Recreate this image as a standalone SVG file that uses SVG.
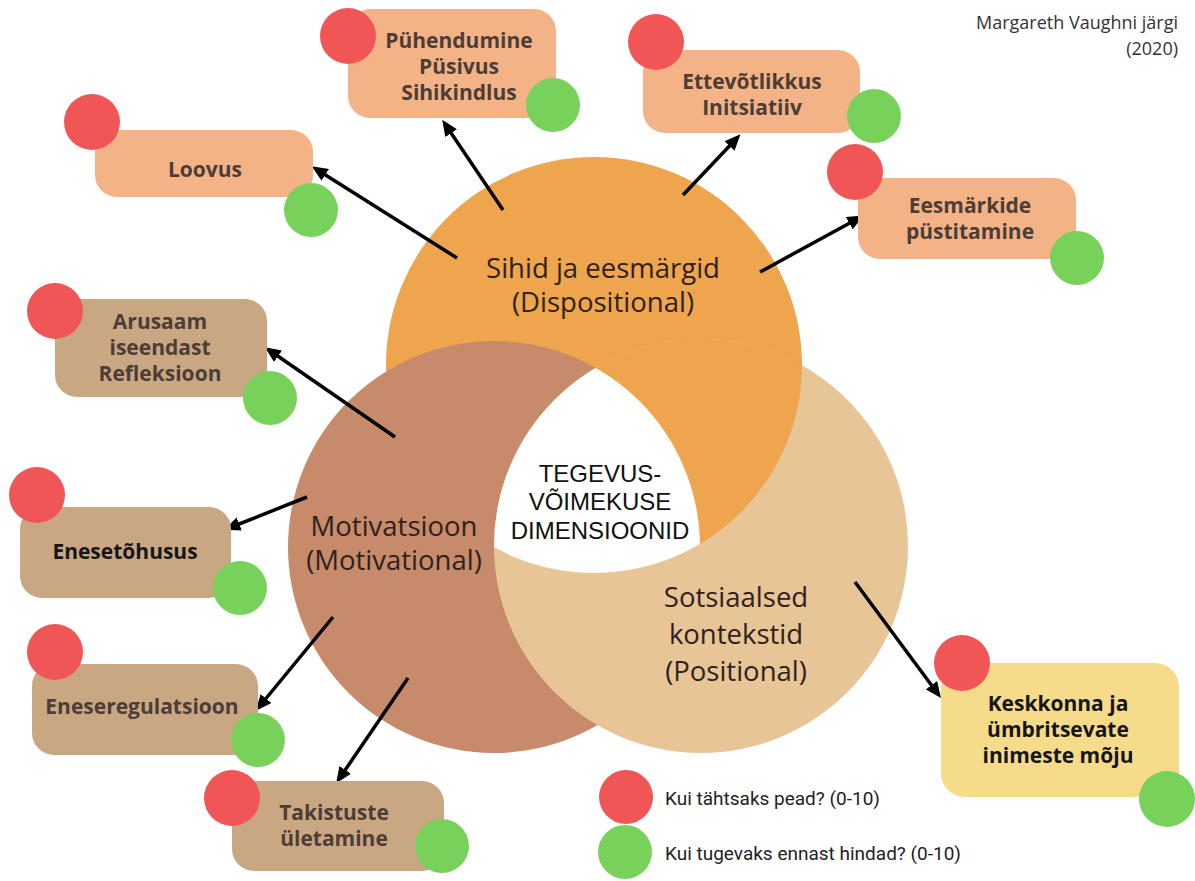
<svg xmlns="http://www.w3.org/2000/svg" width="1195" height="881" viewBox="0 0 1195 881">
<style>
.nt{font-family:"Open Sans","Liberation Sans",sans-serif;font-weight:700;font-size:21px;fill:#4d3d37;text-anchor:middle}
.nk{fill:#161616}
.cl{font-family:"Open Sans","Liberation Sans",sans-serif;font-size:27.5px;fill:#2f221d;text-anchor:middle}
.ct{font-family:"Liberation Sans",Arial,sans-serif;font-size:24px;fill:#111;text-anchor:middle}
.lg{font-family:Roboto,"Liberation Sans",sans-serif;font-size:19px;fill:#222}
.tt{font-family:"Open Sans","Liberation Sans",sans-serif;font-size:18px;fill:#333;text-anchor:end}
.red{fill:#F15656}
.grn{fill:#77D15A}
.sal{fill:#F4B386}
.brn{fill:#C9A783}
.yel{fill:#F6DB8A}
.ar{stroke:#000;stroke-width:3.5;fill:none;marker-end:url(#ah)}
</style>
<defs>
<marker id="ah" markerUnits="userSpaceOnUse" markerWidth="16" markerHeight="14" refX="11" refY="7" orient="auto">
<path d="M0,0 L16,7 L0,14 z" fill="#000"/>
</marker>
<clipPath id="cTan"><circle cx="701" cy="546" r="207"/></clipPath>
<clipPath id="cOr"><circle cx="594" cy="365" r="208"/></clipPath>
</defs>
<rect width="1195" height="881" fill="#fff"/>

<g id="venn">
<circle id="c-orange" cx="594" cy="365" r="208" fill="#EEA54E"/>
<circle id="c-brown" cx="494" cy="547" r="206" fill="#C78A6A"/>
<circle id="c-tan" cx="701" cy="546" r="207" fill="#E8C596"/>
<circle cx="594" cy="365" r="208" fill="#EEA54E" clip-path="url(#cTan)"/>
<g clip-path="url(#cOr)"><g clip-path="url(#cTan)"><circle cx="494" cy="547" r="206" fill="#fff"/></g></g>
<text class="cl" x="603" y="278">Sihid ja eesmärgid</text>
<text class="cl" x="603" y="312">(Dispositional)</text>
<text class="cl" x="394" y="536">Motivatsioon</text>
<text class="cl" x="394" y="570">(Motivational)</text>
<text class="cl" x="736" y="607">Sotsiaalsed</text>
<text class="cl" x="736" y="644">kontekstid</text>
<text class="cl" x="736" y="681">(Positional)</text>
<text class="ct" x="600" y="482">TEGEVUS-</text>
<text class="ct" x="600" y="510">VÕIMEKUSE</text>
<text class="ct" x="600" y="539">DIMENSIOONID</text>
</g>

<g id="connectors">
<line class="ar" x1="457" y1="258" x2="316" y2="169"/>
<line class="ar" x1="503" y1="210" x2="445" y2="124"/>
<line class="ar" x1="683" y1="195" x2="737" y2="138"/>
<line class="ar" x1="760" y1="272" x2="859" y2="218"/>
<line class="ar" x1="395" y1="437" x2="269" y2="350"/>
<line class="ar" x1="307" y1="497" x2="229" y2="528"/>
<line class="ar" x1="333" y1="617" x2="259" y2="707"/>
<line class="ar" x1="408" y1="678" x2="339" y2="779"/>
<line class="ar" x1="855" y1="582" x2="938" y2="694"/>
</g>

<g id="n-loovus">
<rect class="sal" x="95" y="130" width="218" height="67" rx="22"/>
<circle class="red" cx="92" cy="122" r="28"/>
<circle class="grn" cx="311" cy="210" r="27"/>
<text class="nt" x="205" y="177">Loovus</text>
</g>

<g id="n-pyhendumine">
<rect class="sal" x="348" y="9" width="208" height="109" rx="22"/>
<circle class="red" cx="348" cy="36" r="28"/>
<circle class="grn" cx="553" cy="105" r="27"/>
<text class="nt" x="459" y="48">Pühendumine</text>
<text class="nt" x="459" y="74">Püsivus</text>
<text class="nt" x="459" y="100">Sihikindlus</text>
</g>

<g id="n-ettevotlikkus">
<rect class="sal" x="643" y="50" width="217" height="83" rx="22"/>
<circle class="red" cx="656" cy="42" r="28"/>
<circle class="grn" cx="874" cy="116" r="27"/>
<text class="nt" x="752" y="89">Ettevõtlikkus</text>
<text class="nt" x="752" y="115">Initsiatiiv</text>
</g>

<g id="n-eesmarkide">
<rect class="sal" x="858" y="178" width="218" height="81" rx="22"/>
<circle class="red" cx="855" cy="172" r="28"/>
<circle class="grn" cx="1077" cy="258" r="27"/>
<text class="nt" x="970" y="213">Eesmärkide</text>
<text class="nt" x="970" y="239">püstitamine</text>
</g>

<g id="n-arusaam">
<rect class="brn" x="55" y="299" width="212" height="98" rx="22"/>
<circle class="red" cx="55" cy="311" r="28"/>
<circle class="grn" cx="270" cy="398" r="27"/>
<text class="nt" x="160" y="329">Arusaam</text>
<text class="nt" x="160" y="355">iseendast</text>
<text class="nt" x="160" y="381">Refleksioon</text>
</g>

<g id="n-enesetohusus">
<rect class="brn" x="20" y="507" width="211" height="91" rx="22"/>
<circle class="red" cx="37" cy="495" r="28"/>
<circle class="grn" cx="240" cy="588" r="27"/>
<text class="nt nk" x="125" y="559">Enesetõhusus</text>
</g>

<g id="n-eneseregulatsioon">
<rect class="brn" x="32" y="664" width="226" height="91" rx="22"/>
<circle class="red" cx="55" cy="652" r="28"/>
<circle class="grn" cx="258" cy="740" r="27"/>
<text class="nt" x="142" y="714">Eneseregulatsioon</text>
</g>

<g id="n-takistuste">
<rect class="brn" x="232" y="781" width="212" height="90" rx="22"/>
<circle class="red" cx="232" cy="798" r="28"/>
<circle class="grn" cx="442" cy="846" r="27"/>
<text class="nt" x="334" y="820">Takistuste</text>
<text class="nt" x="334" y="846">ületamine</text>
</g>

<g id="n-keskkonna">
<rect class="yel" x="941" y="663" width="238" height="134" rx="24"/>
<circle class="red" cx="962" cy="663" r="28"/>
<circle class="grn" cx="1167" cy="799" r="28"/>
<text class="nt nk" x="1058" y="711">Keskkonna ja</text>
<text class="nt nk" x="1058" y="737">ümbritsevate</text>
<text class="nt nk" x="1058" y="763">inimeste mõju</text>
</g>

<g id="legend">
<circle class="red" cx="626" cy="797" r="27"/>
<text class="lg" x="665" y="805">Kui tähtsaks pead? (0-10)</text>
<circle class="grn" cx="625" cy="852" r="27"/>
<text class="lg" x="665" y="860">Kui tugevaks ennast hindad? (0-10)</text>
</g>

<g id="title">
<text class="tt" x="1178" y="29">Margareth Vaughni järgi</text>
<text class="tt" x="1178" y="55">(2020)</text>
</g>
</svg>
